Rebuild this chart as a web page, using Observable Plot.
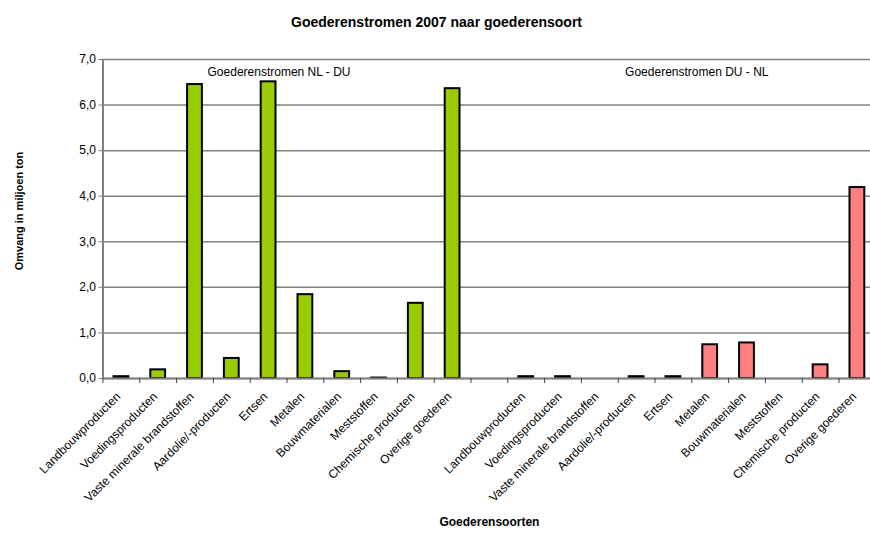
<!DOCTYPE html>
<html><head><meta charset="utf-8">
<script src="https://cdn.jsdelivr.net/npm/d3@7"></script>
<script src="https://cdn.jsdelivr.net/npm/@observablehq/plot@0.6"></script>
<style>html,body{margin:0;padding:0;background:#fff;overflow:hidden;} svg{overflow:hidden;display:block;}</style>
</head><body><div id="chart"></div>
<script>
const title = "Goederenstromen 2007 naar goederensoort";
const yTitle = "Omvang in miljoen ton";
const xTitle = "Goederensoorten";
const groups = ["Goederenstromen NL - DU", "Goederenstromen DU - NL"];
const categories = ["Landbouwproducten", "Voedingsproducten", "Vaste minerale brandstoffen", "Aardolie/-producten", "Ertsen", "Metalen", "Bouwmaterialen", "Meststoffen", "Chemische producten", "Overige goederen"];
const nlDu = [0.04, 0.19, 6.45, 0.44, 6.51, 1.84, 0.15, 0.01, 1.65, 6.36];
const duNl = [0.04, 0.04, 0, 0.04, 0.04, 0.74, 0.78, 0, 0.30, 4.19];
const yTicks = [0, 1, 2, 3, 4, 5, 6, 7];
const colors = ["#99CC00", "#FF8080"];

const n = categories.length;
const slots = 2 * n + 1;
const rows = [];
categories.forEach((c, i) => rows.push({group: groups[0], cat: c, slot: i, value: nlDu[i]}));
categories.forEach((c, i) => rows.push({group: groups[1], cat: c, slot: n + 1 + i, value: duNl[i]}));
const fmt = d => d.toFixed(1).replace(".", ",");
const font = "'Liberation Sans', Arial, sans-serif";

const chart = Plot.plot({
  width: 870, height: 535,
  marginLeft: 102.5, marginRight: -5.3, marginTop: 59, marginBottom: 157,
  style: {fontFamily: font, fontSize: "12px", color: "#000", background: "#fff", overflow: "hidden"},
  x: {type: "linear", domain: [0, slots], axis: null},
  y: {domain: [0, 7], axis: null},
  color: {domain: groups, range: colors},
  marks: [
    Plot.gridY(yTicks, {stroke: "#808080", strokeOpacity: 1, strokeWidth: 1.5}),
    Plot.rectY(rows.filter(d => d.value > 0), {x1: d => d.slot, x2: d => d.slot + 1, y: "value", fill: "group", stroke: "#000", strokeWidth: 2, insetLeft: 11, insetRight: 11}),
    Plot.ruleY([0], {stroke: "#808080", strokeWidth: 2}),
    Plot.ruleX([0], {stroke: "#808080", strokeWidth: 2}),
    Plot.axisY(yTicks, {tickFormat: fmt, tickSize: 4, stroke: "#808080", fill: "#000", fontSize: 12, tickPadding: 3, label: null}),
    Plot.axisX(d3.range(slots + 1), {tickFormat: () => "", tickSize: 5, stroke: "#404040", label: null}),
    Plot.text(rows, {x: d => d.slot + 0.5, y: 0, text: "cat", rotate: -45, textAnchor: "end", dy: 16, dx: -3, fontSize: 12, fill: "#000"}),
    Plot.text([groups[0]], {x: () => n / 2, y: 7, dy: 13, dx: -8, fontSize: 12, fill: "#000"}),
    Plot.text([groups[1]], {x: () => n + 1 + n / 2, y: 7, dy: 13, dx: 5, fontSize: 12, fill: "#000"}),
    Plot.text([title], {frameAnchor: "top-left", dx: 436 - 102.5, dy: -42, fontWeight: "bold", fontSize: 14, textAnchor: "middle", fill: "#000"}),
    Plot.text([yTitle], {frameAnchor: "left", dx: -84, dy: -8, rotate: -90, textAnchor: "middle", fontWeight: "bold", fontSize: 11, fill: "#000"}),
    Plot.text([xTitle], {frameAnchor: "bottom", dy: 147, textAnchor: "middle", fontWeight: "bold", fontSize: 12, fill: "#000"})
  ]
});
document.getElementById("chart").appendChild(chart);
</script>
</body></html>
